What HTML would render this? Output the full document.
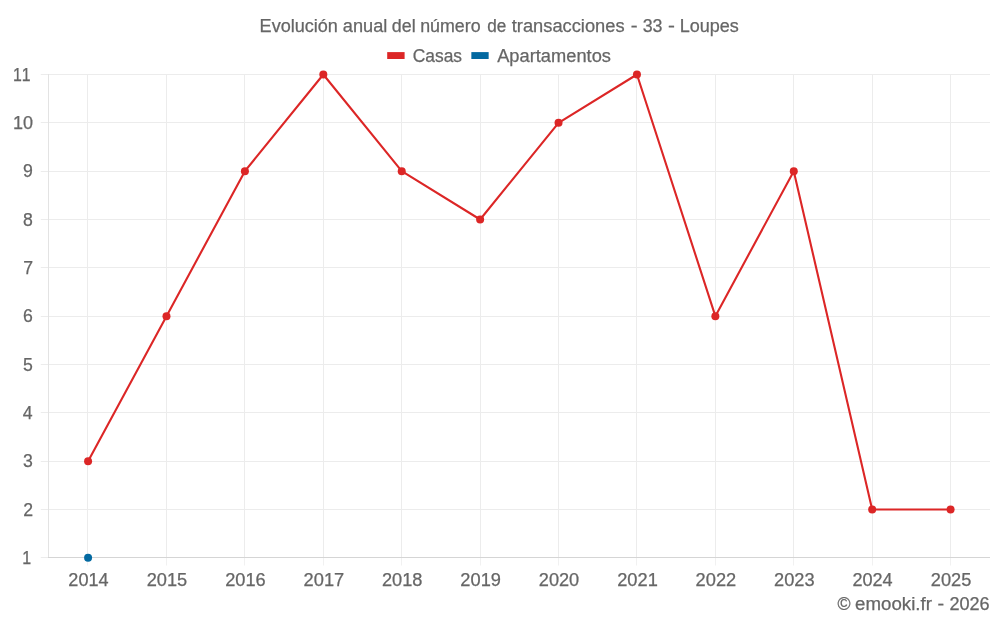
<!DOCTYPE html>
<html lang="es"><head><meta charset="utf-8"><title>Evolución anual del número de transacciones - 33 - Loupes</title>
<style>html,body{margin:0;padding:0;background:#fff;}body{width:1000px;height:625px;overflow:hidden;}svg{display:block;}text{font-family:"Liberation Sans",sans-serif;fill:#666666;font-kerning:none;stroke:#666666;stroke-width:0.25px;}</style></head><body>
<svg width="1000" height="625" viewBox="0 0 1000 625">
<rect width="1000" height="625" fill="#fff"/>
<g stroke="#ececec" stroke-width="1" fill="none">
<line x1="40.8" y1="509.5" x2="990.0" y2="509.5"/>
<line x1="40.8" y1="461.5" x2="990.0" y2="461.5"/>
<line x1="40.8" y1="412.5" x2="990.0" y2="412.5"/>
<line x1="40.8" y1="364.5" x2="990.0" y2="364.5"/>
<line x1="40.8" y1="316.5" x2="990.0" y2="316.5"/>
<line x1="40.8" y1="267.5" x2="990.0" y2="267.5"/>
<line x1="40.8" y1="219.5" x2="990.0" y2="219.5"/>
<line x1="40.8" y1="171.5" x2="990.0" y2="171.5"/>
<line x1="40.8" y1="122.5" x2="990.0" y2="122.5"/>
<line x1="40.8" y1="74.5" x2="990.0" y2="74.5"/>
<line x1="40.8" y1="557.5" x2="48" y2="557.5"/>
<line x1="87.5" y1="74.0" x2="87.5" y2="557"/>
<line x1="87.5" y1="558" x2="87.5" y2="565.5" stroke="#f1f1f1"/>
<line x1="166.5" y1="74.0" x2="166.5" y2="557"/>
<line x1="166.5" y1="558" x2="166.5" y2="565.5" stroke="#f1f1f1"/>
<line x1="244.5" y1="74.0" x2="244.5" y2="557"/>
<line x1="244.5" y1="558" x2="244.5" y2="565.5" stroke="#f1f1f1"/>
<line x1="323.5" y1="74.0" x2="323.5" y2="557"/>
<line x1="323.5" y1="558" x2="323.5" y2="565.5" stroke="#f1f1f1"/>
<line x1="401.5" y1="74.0" x2="401.5" y2="557"/>
<line x1="401.5" y1="558" x2="401.5" y2="565.5" stroke="#f1f1f1"/>
<line x1="480.5" y1="74.0" x2="480.5" y2="557"/>
<line x1="480.5" y1="558" x2="480.5" y2="565.5" stroke="#f1f1f1"/>
<line x1="558.5" y1="74.0" x2="558.5" y2="557"/>
<line x1="558.5" y1="558" x2="558.5" y2="565.5" stroke="#f1f1f1"/>
<line x1="636.5" y1="74.0" x2="636.5" y2="557"/>
<line x1="636.5" y1="558" x2="636.5" y2="565.5" stroke="#f1f1f1"/>
<line x1="715.5" y1="74.0" x2="715.5" y2="557"/>
<line x1="715.5" y1="558" x2="715.5" y2="565.5" stroke="#f1f1f1"/>
<line x1="793.5" y1="74.0" x2="793.5" y2="557"/>
<line x1="793.5" y1="558" x2="793.5" y2="565.5" stroke="#f1f1f1"/>
<line x1="872.5" y1="74.0" x2="872.5" y2="557"/>
<line x1="872.5" y1="558" x2="872.5" y2="565.5" stroke="#f1f1f1"/>
<line x1="950.5" y1="74.0" x2="950.5" y2="557"/>
<line x1="950.5" y1="558" x2="950.5" y2="565.5" stroke="#f1f1f1"/>
</g>
<g stroke-width="1" fill="none">
<line x1="48.5" y1="74.0" x2="48.5" y2="558.0" stroke="#e3e3e3"/>
<line x1="48.0" y1="557.5" x2="990.0" y2="557.5" stroke="#d5d5d5"/>
</g>
<polyline points="88.08,461.14 166.49,316.15 244.90,171.16 323.31,74.50 401.72,171.16 480.13,219.49 558.54,122.83 636.95,74.50 715.36,316.15 793.77,171.16 872.18,509.47 950.59,509.47" fill="none" stroke="#dc2626" stroke-width="2.1" stroke-linejoin="round" stroke-linecap="butt"/>
<circle cx="88.08" cy="461.14" r="4.0" fill="#dc2626"/>
<circle cx="166.49" cy="316.15" r="4.0" fill="#dc2626"/>
<circle cx="244.90" cy="171.16" r="4.0" fill="#dc2626"/>
<circle cx="323.31" cy="74.50" r="4.0" fill="#dc2626"/>
<circle cx="401.72" cy="171.16" r="4.0" fill="#dc2626"/>
<circle cx="480.13" cy="219.49" r="4.0" fill="#dc2626"/>
<circle cx="558.54" cy="122.83" r="4.0" fill="#dc2626"/>
<circle cx="636.95" cy="74.50" r="4.0" fill="#dc2626"/>
<circle cx="715.36" cy="316.15" r="4.0" fill="#dc2626"/>
<circle cx="793.77" cy="171.16" r="4.0" fill="#dc2626"/>
<circle cx="872.18" cy="509.47" r="4.0" fill="#dc2626"/>
<circle cx="950.59" cy="509.47" r="4.0" fill="#dc2626"/>
<circle cx="88.08" cy="557.80" r="4.0" fill="#0369a1"/>
<text y="31.50" font-size="17.50"><tspan x="259.64" textLength="78.30" lengthAdjust="spacingAndGlyphs">Evolución</tspan> <tspan x="342.85" textLength="44.49" lengthAdjust="spacingAndGlyphs">anual</tspan> <tspan x="391.88" textLength="23.79" lengthAdjust="spacingAndGlyphs">del</tspan> <tspan x="420.19" textLength="60.43" lengthAdjust="spacingAndGlyphs">número</tspan> <tspan x="487.15" textLength="19.08" lengthAdjust="spacingAndGlyphs">de</tspan> <tspan x="511.75" textLength="112.79" lengthAdjust="spacingAndGlyphs">transacciones</tspan> <tspan x="630.72" textLength="6.82" lengthAdjust="spacingAndGlyphs">-</tspan> <tspan x="642.65" textLength="19.81" lengthAdjust="spacingAndGlyphs">33</tspan> <tspan x="667.91" textLength="6.89" lengthAdjust="spacingAndGlyphs">-</tspan> <tspan x="679.65" textLength="59.18" lengthAdjust="spacingAndGlyphs">Loupes</tspan></text>
<rect x="387.2" y="52.1" width="17.4" height="6.9" fill="#dc2626"/>
<text y="61.50" font-size="17.50"><tspan x="412.74" textLength="49.26" lengthAdjust="spacingAndGlyphs">Casas</tspan></text>
<rect x="471.35" y="52.1" width="17.3" height="6.9" fill="#0369a1"/>
<text y="61.50" font-size="17.50"><tspan x="497.19" textLength="113.75" lengthAdjust="spacingAndGlyphs">Apartamentos</tspan></text>
<text y="564.05" font-size="17.50"><tspan x="22.22" textLength="8.92" lengthAdjust="spacingAndGlyphs">1</tspan></text>
<text y="515.72" font-size="17.50"><tspan x="23.18" textLength="9.83" lengthAdjust="spacingAndGlyphs">2</tspan></text>
<text y="467.39" font-size="17.50"><tspan x="23.07" textLength="9.83" lengthAdjust="spacingAndGlyphs">3</tspan></text>
<text y="419.06" font-size="17.50"><tspan x="22.81" textLength="9.83" lengthAdjust="spacingAndGlyphs">4</tspan></text>
<text y="370.73" font-size="17.50"><tspan x="23.04" textLength="9.83" lengthAdjust="spacingAndGlyphs">5</tspan></text>
<text y="322.40" font-size="17.50"><tspan x="23.07" textLength="9.83" lengthAdjust="spacingAndGlyphs">6</tspan></text>
<text y="274.07" font-size="17.50"><tspan x="23.18" textLength="9.83" lengthAdjust="spacingAndGlyphs">7</tspan></text>
<text y="225.74" font-size="17.50"><tspan x="23.06" textLength="9.83" lengthAdjust="spacingAndGlyphs">8</tspan></text>
<text y="177.41" font-size="17.50"><tspan x="23.13" textLength="9.83" lengthAdjust="spacingAndGlyphs">9</tspan></text>
<text y="129.08" font-size="17.50"><tspan x="12.95" textLength="20.02" lengthAdjust="spacingAndGlyphs">10</tspan></text>
<text y="80.75" font-size="17.50"><tspan x="13.02" textLength="17.63" lengthAdjust="spacingAndGlyphs">11</tspan></text>
<text y="585.50" font-size="17.50"><tspan x="68.35" textLength="40.24" lengthAdjust="spacingAndGlyphs">2014</tspan></text>
<text y="585.50" font-size="17.50"><tspan x="146.75" textLength="40.48" lengthAdjust="spacingAndGlyphs">2015</tspan></text>
<text y="585.50" font-size="17.50"><tspan x="225.16" textLength="40.52" lengthAdjust="spacingAndGlyphs">2016</tspan></text>
<text y="585.50" font-size="17.50"><tspan x="303.57" textLength="40.64" lengthAdjust="spacingAndGlyphs">2017</tspan></text>
<text y="585.50" font-size="17.50"><tspan x="381.98" textLength="40.51" lengthAdjust="spacingAndGlyphs">2018</tspan></text>
<text y="585.50" font-size="17.50"><tspan x="460.39" textLength="40.58" lengthAdjust="spacingAndGlyphs">2019</tspan></text>
<text y="585.50" font-size="17.50"><tspan x="538.80" textLength="40.42" lengthAdjust="spacingAndGlyphs">2020</tspan></text>
<text y="585.50" font-size="17.50"><tspan x="617.21" textLength="40.61" lengthAdjust="spacingAndGlyphs">2021</tspan></text>
<text y="585.50" font-size="17.50"><tspan x="695.62" textLength="40.64" lengthAdjust="spacingAndGlyphs">2022</tspan></text>
<text y="585.50" font-size="17.50"><tspan x="774.03" textLength="40.52" lengthAdjust="spacingAndGlyphs">2023</tspan></text>
<text y="585.50" font-size="17.50"><tspan x="852.45" textLength="40.24" lengthAdjust="spacingAndGlyphs">2024</tspan></text>
<text y="585.50" font-size="17.50"><tspan x="930.85" textLength="40.48" lengthAdjust="spacingAndGlyphs">2025</tspan></text>
<text y="610.10" font-size="17.50"><tspan x="837.51" textLength="13.04" lengthAdjust="spacingAndGlyphs">©</tspan> <tspan x="855.13" textLength="76.75" lengthAdjust="spacingAndGlyphs">emooki.fr</tspan> <tspan x="937.54" textLength="6.62" lengthAdjust="spacingAndGlyphs">-</tspan> <tspan x="949.41" textLength="40.26" lengthAdjust="spacingAndGlyphs">2026</tspan></text>
</svg></body></html>
